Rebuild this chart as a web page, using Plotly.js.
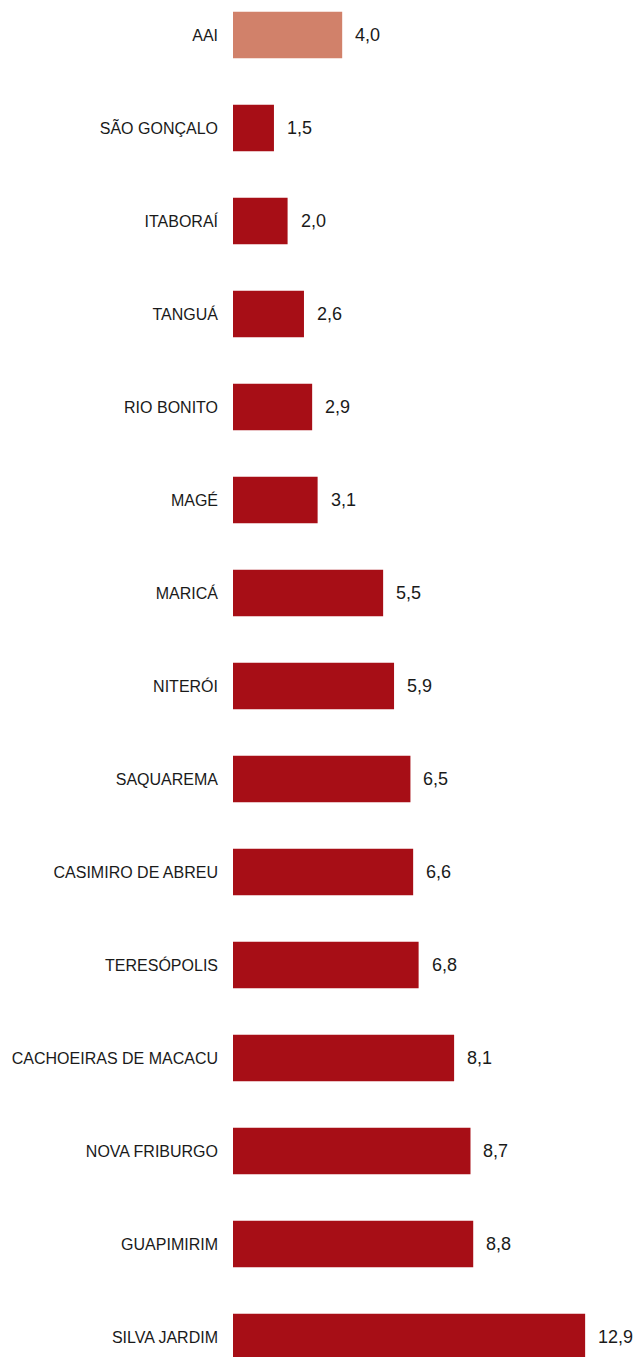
<!DOCTYPE html>
<html>
<head>
<meta charset="utf-8">
<script src="https://cdn.plot.ly/plotly-3.0.1.min.js"></script>
<style>html,body{margin:0;padding:0;background:#fff;}#chart{width:637px;height:1357px;}</style>
</head>
<body>
<div id="chart"></div>
<script>
const categories = ["AAI","SÃO GONÇALO","ITABORAÍ","TANGUÁ","RIO BONITO","MAGÉ","MARICÁ","NITERÓI","SAQUAREMA","CASIMIRO DE ABREU","TERESÓPOLIS","CACHOEIRAS DE MACACU","NOVA FRIBURGO","GUAPIMIRIM","SILVA JARDIM"];
const values = [4.0,1.5,2.0,2.6,2.9,3.1,5.5,5.9,6.5,6.6,6.8,8.1,8.7,8.8,12.9];
const highlight = "AAI";

const FONT = '"Liberation Sans Narrow","Arial Narrow","Liberation Sans",Arial,sans-serif';
const colors = categories.map(c => c === highlight ? '#D1816A' : '#A70E16');
const labels = values.map(v => v.toFixed(1).replace('.', ','));

const trace = {
  type: 'bar',
  orientation: 'h',
  x: values,
  y: categories,
  marker: {color: colors, line: {width: 0}},
  hoverinfo: 'skip',
  cliponaxis: false
};

const annotations = values.map((v, i) => ({
  x: v, y: categories[i], xref: 'x', yref: 'y',
  text: labels[i], showarrow: false, xanchor: 'left', yanchor: 'middle',
  xshift: 11, font: {family: FONT, size: 18, color: '#1a1a1a'}
}));

const layout = {
  width: 637, height: 1357,
  margin: {l: 233, r: 0, t: 0, b: 0, pad: 0},
  paper_bgcolor: '#ffffff', plot_bgcolor: '#ffffff',
  showlegend: false,
  bargap: 0.5,
  xaxis: {range: [0, 14.8], visible: false, fixedrange: true},
  yaxis: {
    type: 'category',
    range: [14.215, -0.376],
    showgrid: false, zeroline: false, showline: false,
    ticks: '', ticklabelstandoff: 14,
    tickfont: {family: FONT, size: 16, color: '#1a1a1a'},
    fixedrange: true
  },
  annotations: annotations
};

Plotly.newPlot('chart', [trace], layout, {staticPlot: true, displayModeBar: false});
</script>
</body>
</html>
